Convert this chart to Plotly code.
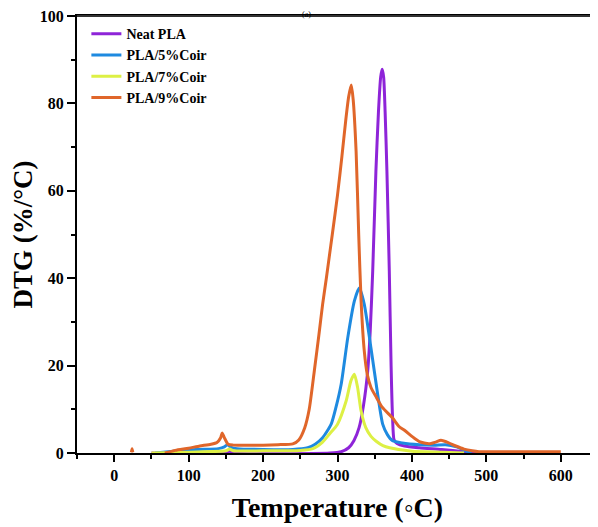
import plotly.graph_objects as go

# ---- data ----
neat_T = [50, 150, 155, 160, 290, 305, 315, 322, 329, 335, 340.6, 344, 347.3, 351.6, 355, 358, 360, 362, 364, 366.4, 369.6, 372, 374, 376, 380, 390, 410, 440, 470, 490]
neat_v = [0, 0, 0.4, 0, 0, 0.3, 1.2, 2.8, 5.8, 11, 18.8, 28, 41.6, 64.5, 78, 86, 87.8, 86, 78, 64.5, 41.6, 20, 8, 3, 2.2, 1.6, 1.2, 0.8, 0.3, 0]

c5_T = [55, 80, 110, 140, 148, 152, 157, 165, 200, 240, 260, 270, 280, 291.5, 298, 305, 313.8, 322.7, 329.4, 336, 345, 354, 360.7, 367, 374, 387, 410, 430, 445, 460, 472, 480]
c5_v = [0, 0.4, 0.8, 1.0, 1.4, 1.9, 1.3, 1.0, 0.8, 0.8, 1.2, 2.0, 3.5, 6.6, 10.5, 15.8, 26.4, 34.8, 37.8, 34, 24, 13.4, 6.6, 4.2, 2.8, 2.3, 1.9, 1.8, 1.9, 1.4, 0.5, 0]

c7_T = [50, 100, 150, 155, 160, 200, 250, 267, 280, 289, 300, 311.6, 318, 322.7, 327, 331.7, 338, 345, 352, 361, 370, 400, 440, 470]
c7_v = [0, 0.2, 0.5, 0.9, 0.5, 0.5, 0.6, 1.0, 2.5, 4.3, 6.6, 11.9, 16.5, 18.0, 15, 9.6, 5.8, 3.8, 2.7, 1.7, 1.2, 0.4, 0.2, 0]

c9_T = [23, 24, 25, None, 68, 82, 100, 115, 130, 138, 143, 145, 148, 153, 160, 180, 200, 220, 240, 248, 256, 262, 269, 275, 280, 285, 289, 293, 300, 306, 311, 315, 318.5, 321, 325, 328.5, 331.7, 336, 340, 345, 352, 360, 374, 383, 390, 400, 410, 423, 432, 439, 447, 459, 470, 481, 490, 520, 560, 600]
c9_v = [0.2, 1.0, 0.2, None, 0, 0.6, 1.1, 1.6, 2.0, 2.4, 3.5, 4.6, 3.5, 2.0, 1.8, 1.8, 1.8, 1.9, 2.1, 3.0, 5.8, 10, 19, 27, 34, 40, 45, 50, 59, 68, 76, 81.5, 84.2, 81, 69, 50, 34.8, 23.3, 18, 15, 12.8, 10.5, 8, 6, 5.2, 3.8, 2.6, 2.1, 2.5, 2.9, 2.5, 1.6, 0.9, 0.5, 0.3, 0.3, 0.3, 0.3]

series_names = ["Neat PLA", "PLA/5%Coir", "PLA/7%Coir", "PLA/9%Coir"]
series_colors = ["#8E24D8", "#1E8AE0", "#DDF044", "#E0662A"]

x_tick_vals = [0, 100, 200, 300, 400, 500, 600]
y_tick_vals = [0, 20, 40, 60, 80, 100]

serif = "Liberation Serif, Times New Roman, serif"

fig = go.Figure()
for name, T, v, col in zip(series_names, [neat_T, c5_T, c7_T, c9_T], [neat_v, c5_v, c7_v, c9_v], series_colors):
    fig.add_trace(go.Scatter(x=T, y=v, mode="lines", name=name,
                             line=dict(color=col, width=3, shape="spline", smoothing=0.6),
                             connectgaps=False))

# the page body adds an 8px offset, margins compensate for it
fig.update_layout(
    width=598, height=527,
    margin=dict(l=69, r=8, t=8, b=82, autoexpand=False),
    plot_bgcolor="white", paper_bgcolor="white",
    showlegend=True,
    legend=dict(x=0.018, y=0.995, xanchor="left", yanchor="top",
                font=dict(family=serif, size=14, color="black", weight="bold"),
                bgcolor="rgba(0,0,0,0)", tracegroupgap=0, itemwidth=30),
    font=dict(family=serif, color="black"),
)
fig.update_xaxes(
    range=[-50, 650], tickvals=x_tick_vals, ticktext=[str(t) for t in x_tick_vals],
    showgrid=False, zeroline=False, automargin=False,
    showline=True, linecolor="black", linewidth=2, mirror=True,
    ticks="outside", ticklen=7, tickwidth=2, tickcolor="black",
    minor=dict(tickvals=[-50, 50, 150, 250, 350, 450, 550], ticks="outside", ticklen=4, tickwidth=2, tickcolor="black"),
    tickfont=dict(family=serif, size=16, color="black", weight="bold"),
    title=dict(text="Temperature (◦C)", font=dict(family=serif, size=28, color="black", weight="bold"), standoff=14),
)
fig.update_yaxes(
    range=[0, 100], tickvals=y_tick_vals, ticktext=[str(t) for t in y_tick_vals],
    showgrid=False, zeroline=False, automargin=False, ticklabeloverflow="allow",
    showline=True, linecolor="black", linewidth=2, mirror=False,
    ticks="outside", ticklen=8, tickwidth=2, tickcolor="black",
    minor=dict(tickvals=[10, 30, 50, 70, 90], ticks="outside", ticklen=4, tickwidth=2, tickcolor="black"),
    tickfont=dict(family=serif, size=16, color="black", weight="bold"),
    title=dict(text="DTG (%/°C)", font=dict(family=serif, size=27, color="black", weight="bold"), standoff=3),
)
# top frame line
fig.add_shape(type="line", xref="paper", yref="paper", x0=0, x1=1, y0=1, y1=1,
              line=dict(color="#333333", width=2), layer="above")
fig.add_annotation(text="(a)", xref="paper", yref="paper", x=0.44, y=1, xanchor="center", yanchor="top",
                   yshift=8, showarrow=False, font=dict(family=serif, size=8, color="black"))

fig.write_html("out.html")
